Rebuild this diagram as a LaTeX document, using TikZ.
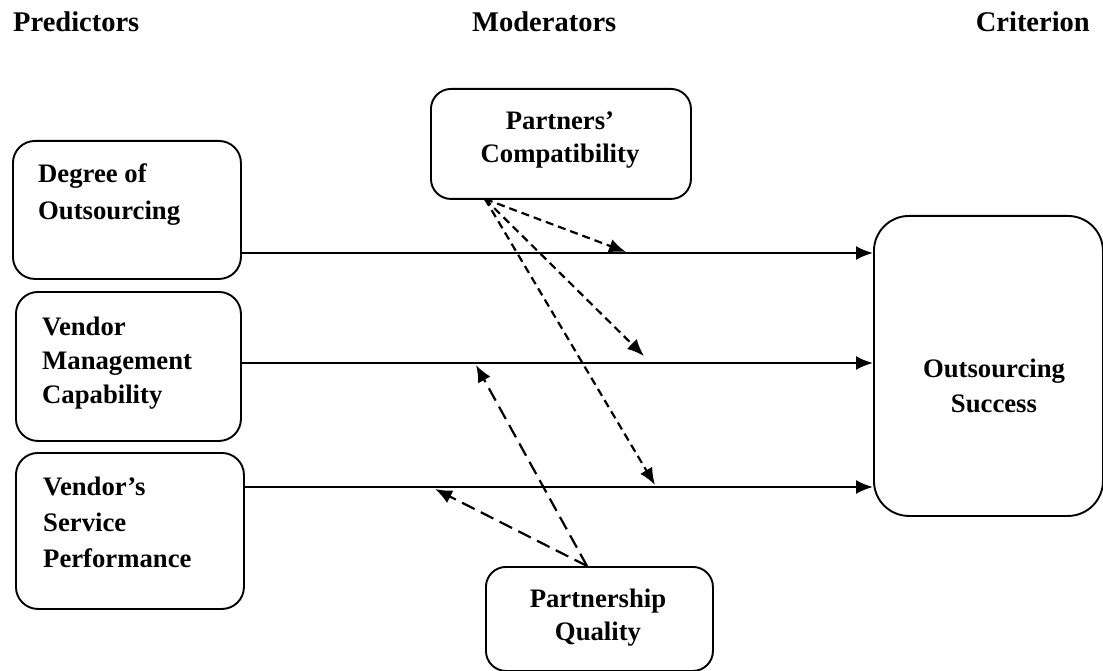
\documentclass[tikz,border=0pt]{standalone}
\usepackage{fontspec}
\setmainfont{Liberation Serif}
\usetikzlibrary{arrows.meta}
\begin{document}
\begin{tikzpicture}[x=1pt,y=-1pt,
  box/.style={draw, line width=1.9pt, anchor=north west, inner sep=0pt},
  lbl/.style={font=\fontsize{26.7}{32}\selectfont\bfseries, inner sep=0pt},
  head/.style={font=\fontsize{28.5}{34}\selectfont\bfseries, inner sep=0pt},
  tip/.style={-{Latex[length=17pt,width=14pt]}},
  link/.style={line width=2.3pt, tip},
  shortdash/.style={line width=2.2pt, dash pattern=on 8pt off 5pt, tip},
  longdash/.style={line width=2.2pt, dash pattern=on 14pt off 7pt, tip}
]
\useasboundingbox (0,0) rectangle (1103,671);

% column headings
\node[head, anchor=base west] (hp) at (13,32) {Predictors};
\node[head, anchor=base west] (hm) at (472,32) {Moderators};
\node[head, anchor=base east] (hc) at (1090,32) {Criterion};

% boxes
\node[box, rounded corners=22pt, minimum width=228pt, minimum height=138pt] (deg) at (12,140) {};
\node[box, rounded corners=22pt, minimum width=225pt, minimum height=149pt] (vmc) at (15,291) {};
\node[box, rounded corners=22pt, minimum width=228pt, minimum height=156pt] (vsp) at (15,452) {};
\node[box, rounded corners=20pt, minimum width=260pt, minimum height=110pt] (comp) at (430,88) {};
\node[box, rounded corners=20pt, minimum width=227pt, minimum height=104pt] (pq) at (485,566) {};
\node[box, rounded corners=35pt, minimum width=229pt, minimum height=300pt] (succ) at (873,215) {};

% box texts
\node[lbl, anchor=base west] (t1a) at (38,183) {Degree of};
\node[lbl, anchor=base west] (t1b) at (38,219) {Outsourcing};
\node[lbl, anchor=base west] (t2a) at (42,335) {Vendor};
\node[lbl, anchor=base west] (t2b) at (42,369) {Management};
\node[lbl, anchor=base west] (t2c) at (42,403) {Capability};
\node[lbl, anchor=base west] (t3a) at (43,495) {Vendor’s};
\node[lbl, anchor=base west] (t3b) at (43,531) {Service};
\node[lbl, anchor=base west] (t3c) at (43,567) {Performance};
\node[lbl, anchor=base] (t4a) at (560,130) {Partners’};
\node[lbl, anchor=base] (t4b) at (560,163) {Compatibility};
\node[lbl, anchor=base] (t5a) at (598,607) {Partnership};
\node[lbl, anchor=base] (t5b) at (598,640) {Quality};
\node[lbl, anchor=base] (t6a) at (994,377) {Outsourcing};
\node[lbl, anchor=base] (t6b) at (994,412) {Success};

% levels of the main paths
\coordinate (r1) at (0,253);
\coordinate (r2) at (0,363);
\coordinate (r3) at (0,487);

% main paths
\draw[link] (deg.east |- r1) -- (succ.west |- r1);
\draw[link] (vmc.east |- r2) -- (succ.west |- r2);
\draw[link] (vsp.east |- r3) -- (succ.west |- r3);

% moderating effects
\coordinate (pc) at (485,199);
\coordinate (e1) at (626,252);
\coordinate (e2) at (644,356);
\coordinate (e3) at (655,485);
\draw[shortdash] (pc) -- (e1);
\draw[shortdash] (pc) -- (e2);
\draw[shortdash] (pc) -- (e3);

\coordinate (pq0) at (587,566);
\coordinate (f1) at (476,365);
\coordinate (f2) at (435,489);
\draw[longdash] (pq0) -- (f1);
\draw[longdash] (pq0) -- (f2);
\end{tikzpicture}
\end{document}
